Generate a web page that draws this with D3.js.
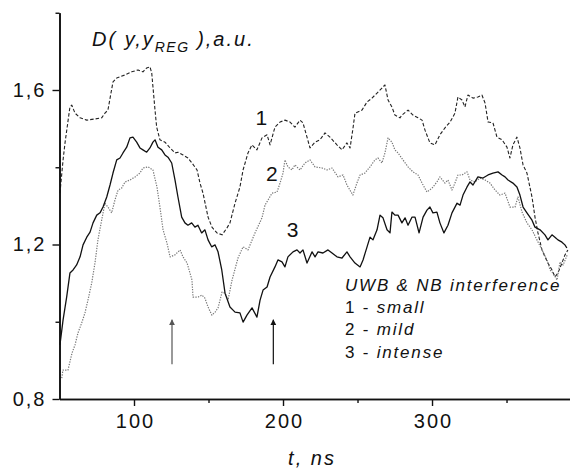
<!DOCTYPE html>
<html><head><meta charset="utf-8">
<script src="https://cdn.jsdelivr.net/npm/d3@7/dist/d3.min.js"></script>
<style>body{margin:0;background:#fff}svg{display:block}</style>
</head><body>
<svg id="c" width="570" height="468"></svg>
<script>
// ---- data (t in ns, D in a.u.) ----
const curveSmall = [[50.3,1.333],[52.4,1.419],[53.7,1.463],[57.0,1.556],[58.2,1.561],[60.4,1.540],[63.8,1.528],[68.3,1.522],[73.8,1.525],[78.3,1.528],[80.5,1.540],[82.5,1.548],[85.9,1.621],[88.4,1.631],[94.0,1.639],[98.5,1.647],[102.7,1.652],[106.0,1.647],[108.5,1.657],[110.7,1.660],[111.9,1.644],[114.1,1.548],[115.2,1.504],[117.4,1.471],[120.8,1.465],[124.2,1.450],[127.5,1.437],[129.5,1.439],[132.9,1.432],[136.2,1.424],[138.9,1.411],[142.3,1.393],[144.3,1.359],[146.3,1.333],[149.7,1.271],[152.3,1.245],[155.7,1.230],[159.1,1.225],[162.4,1.243],[164.4,1.256],[167.8,1.307],[171.1,1.349],[173.2,1.393],[176.5,1.437],[179.2,1.458],[182.5,1.445],[185.9,1.476],[189.3,1.484],[191.3,1.458],[194.6,1.504],[198.0,1.517],[201.3,1.522],[204.7,1.517],[208.0,1.504],[211.4,1.522],[213.4,1.515],[216.1,1.478],[218.1,1.450],[221.5,1.465],[224.8,1.471],[228.2,1.489],[231.5,1.478],[236.2,1.458],[239.6,1.445],[242.9,1.463],[245.0,1.450],[247.0,1.502],[248.3,1.540],[253.0,1.548],[256.4,1.569],[259.7,1.579],[263.1,1.592],[266.4,1.605],[268.4,1.613],[270.5,1.574],[273.1,1.556],[275.1,1.535],[278.5,1.528],[279.8,1.535],[283.9,1.548],[287.2,1.535],[290.6,1.528],[293.3,1.522],[295.3,1.496],[298.6,1.463],[302.0,1.458],[305.3,1.484],[308.7,1.502],[312.1,1.517],[315.4,1.540],[317.4,1.582],[320.1,1.574],[322.1,1.556],[324.1,1.587],[327.5,1.579],[330.8,1.582],[333.5,1.587],[335.6,1.566],[337.6,1.517],[340.9,1.515],[343.6,1.478],[347.0,1.471],[350.3,1.452],[352.3,1.424],[354.3,1.458],[357.0,1.478],[359.0,1.450],[361.1,1.406],[363.7,1.385],[367.1,1.323],[369.1,1.271],[371.1,1.230],[373.8,1.186],[375.8,1.168],[377.8,1.152],[380.5,1.134],[382.5,1.116],[384.5,1.126],[387.2,1.152],[389.2,1.173],[391.2,1.186]];
const curveMild = [[51.5,0.854],[52.3,0.875],[55.7,0.875],[58.4,0.919],[60.4,0.940],[62.4,0.971],[64.9,0.997],[67.1,1.023],[69.1,1.056],[71.6,1.100],[73.8,1.152],[75.8,1.212],[78.3,1.263],[80.5,1.307],[82.5,1.297],[85.0,1.282],[87.2,1.315],[89.3,1.341],[91.7,1.346],[94.0,1.362],[97.3,1.367],[100.7,1.375],[104.0,1.385],[106.0,1.398],[109.4,1.401],[112.7,1.393],[115.4,1.349],[117.4,1.297],[119.5,1.238],[122.1,1.204],[124.2,1.168],[127.5,1.173],[130.9,1.186],[132.9,1.168],[135.6,1.152],[138.9,1.108],[139.6,1.064],[143.0,1.064],[145.6,1.069],[147.6,1.061],[149.7,1.038],[152.3,1.017],[154.4,1.025],[156.4,1.036],[159.1,1.077],[161.1,1.074],[163.1,1.056],[165.8,1.108],[169.8,1.165],[173.2,1.194],[176.5,1.186],[181.2,1.230],[185.9,1.269],[187.9,1.302],[189.9,1.315],[192.6,1.333],[196.0,1.336],[198.0,1.359],[200.0,1.385],[201.3,1.419],[203.3,1.401],[206.0,1.393],[208.0,1.406],[211.4,1.393],[214.7,1.411],[218.1,1.419],[221.5,1.401],[226.2,1.398],[229.5,1.393],[232.9,1.398],[236.9,1.375],[240.3,1.380],[242.9,1.354],[246.9,1.328],[249.6,1.359],[251.7,1.380],[255.0,1.385],[258.4,1.401],[261.7,1.419],[263.7,1.424],[266.4,1.411],[268.4,1.437],[270.5,1.476],[273.1,1.465],[275.1,1.445],[277.2,1.437],[280.5,1.419],[283.9,1.401],[287.2,1.388],[290.6,1.380],[293.3,1.359],[296.6,1.336],[300.0,1.346],[303.3,1.362],[305.3,1.375],[308.7,1.359],[310.7,1.367],[313.4,1.341],[315.4,1.359],[317.4,1.380],[320.1,1.380],[323.5,1.388],[325.5,1.367],[328.8,1.362],[332.2,1.372],[335.6,1.367],[338.9,1.359],[342.3,1.341],[345.6,1.328],[349.0,1.333],[352.3,1.297],[355.7,1.297],[357.7,1.323],[360.4,1.284],[363.7,1.256],[367.1,1.238],[370.4,1.212],[373.8,1.186],[377.2,1.160],[379.2,1.134],[381.2,1.126],[383.9,1.108],[385.9,1.155],[388.0,1.147],[390.7,1.173]];
const curveIntense = [[50.3,0.940],[52.4,1.005],[54.8,1.064],[57.0,1.126],[59.1,1.134],[61.5,1.147],[63.8,1.168],[65.8,1.199],[68.3,1.219],[70.5,1.232],[72.5,1.256],[75.0,1.276],[77.2,1.282],[79.2,1.297],[81.7,1.323],[83.9,1.354],[85.9,1.385],[88.4,1.419],[90.6,1.424],[92.6,1.437],[95.1,1.452],[97.3,1.476],[99.3,1.478],[101.8,1.465],[104.0,1.450],[106.0,1.445],[108.5,1.439],[110.7,1.450],[112.7,1.465],[114.1,1.471],[116.1,1.452],[118.6,1.445],[120.8,1.432],[122.8,1.426],[125.3,1.411],[127.5,1.367],[129.5,1.323],[132.0,1.271],[134.2,1.256],[136.2,1.250],[138.7,1.256],[140.9,1.245],[142.9,1.250],[145.4,1.230],[147.6,1.238],[149.7,1.212],[152.1,1.194],[154.4,1.199],[156.4,1.181],[158.9,1.134],[161.1,1.074],[164.4,1.038],[167.8,1.025],[171.1,1.023],[173.2,0.999],[175.8,1.017],[179.2,1.036],[182.5,1.012],[184.6,1.056],[186.6,1.082],[189.3,1.090],[191.3,1.116],[194.6,1.142],[196.6,1.160],[199.3,1.155],[201.3,1.142],[203.3,1.168],[206.7,1.181],[209.4,1.186],[211.4,1.178],[213.4,1.186],[216.1,1.152],[219.5,1.181],[221.5,1.168],[223.5,1.181],[226.8,1.178],[230.2,1.186],[232.9,1.178],[236.2,1.168],[239.6,1.165],[242.9,1.181],[245.0,1.168],[248.3,1.152],[251.7,1.142],[253.7,1.160],[256.4,1.194],[258.4,1.219],[260.4,1.212],[263.1,1.238],[265.1,1.276],[267.1,1.269],[269.8,1.238],[271.8,1.230],[273.1,1.284],[275.1,1.276],[277.2,1.276],[279.8,1.256],[281.9,1.269],[283.9,1.250],[286.6,1.271],[288.6,1.271],[291.3,1.230],[294.0,1.271],[296.6,1.289],[298.6,1.297],[300.6,1.282],[303.3,1.284],[305.3,1.256],[308.0,1.230],[310.7,1.250],[313.4,1.282],[316.8,1.307],[318.8,1.302],[320.8,1.328],[323.5,1.349],[325.5,1.362],[327.5,1.354],[330.8,1.375],[334.2,1.372],[337.6,1.380],[340.9,1.385],[344.3,1.388],[347.0,1.380],[349.0,1.375],[351.0,1.367],[354.3,1.359],[357.0,1.349],[359.0,1.328],[361.1,1.297],[363.7,1.282],[367.1,1.263],[369.1,1.245],[372.5,1.238],[375.8,1.225],[377.8,1.212],[380.5,1.225],[382.5,1.219],[384.5,1.212],[387.2,1.206],[389.2,1.199],[390.5,1.191]];

const xMajorTicks = [100, 200, 300];
const xMinorTicks = [150, 250, 350];
const yMajorTicks = [0.8, 1.2, 1.6];
const yMajorLabels = ["0,8", "1,2", "1,6"];
const yMinorTicks = [1.0, 1.4, 1.8];
const curveNames = ["1", "2", "3"];
const curveLabelPos = [[185.5, 1.51], [192.5, 1.365], [206.5, 1.22]];
const legendTitle = "UWB & NB interference";
const legendNums = ["1 - ", "2 - ", "3 - "];
const legendWords = ["small", "mild", "intense"];
const arrowTimes = [125.5, 193.5];
const arrowFrom = 0.89, arrowTo = 1.005;

// ---- layout ----
const svg = d3.select("#c");
const FONT = "'Liberation Sans', Arial, sans-serif";
const x = d3.scaleLinear().domain([50, 392.6]).range([59.5, 570]);
const y = d3.scaleLinear().domain([0.8, 1.8]).range([399, 12.75]);

// curves
const line = d3.line().x(d => x(d[0])).y(d => y(d[1]));
const styles = [
  {data: curveSmall, stroke: "#222", width: 1.1, dash: "3.5,2"},
  {data: curveMild, stroke: "#777", width: 1.2, dash: "1.3,1.3"},
  {data: curveIntense, stroke: "#111", width: 1.3, dash: null}
];
styles.forEach(s => {
  svg.append("path").datum(s.data)
    .attr("d", line).attr("fill", "none")
    .attr("stroke", s.stroke).attr("stroke-width", s.width)
    .attr("stroke-dasharray", s.dash)
    .attr("stroke-linejoin", "round");
});

// axes
const axisStyle = g => {
  g.select(".domain").attr("stroke", "#111").attr("stroke-width", 1.6);
  g.selectAll(".tick line").attr("stroke", "#111").attr("stroke-width", 1.4);
  g.selectAll("text").attr("font-family", FONT).attr("font-size", 20)
    .attr("letter-spacing", 2).attr("fill", "#111");
};
svg.append("g").attr("transform", "translate(0,399)")
  .call(d3.axisBottom(x).tickValues(xMinorTicks).tickSize(4).tickSizeOuter(0).tickFormat(""))
  .call(axisStyle);
svg.append("g").attr("transform", "translate(0,399)")
  .call(d3.axisBottom(x).tickValues(xMajorTicks).tickSize(7).tickSizeOuter(0).tickPadding(8).tickFormat(d3.format("d")))
  .call(axisStyle)
  .call(g => g.selectAll("text").attr("dx", 1));
svg.append("g").attr("transform", "translate(59.5,0)")
  .call(d3.axisLeft(y).tickValues(yMinorTicks).tickSize(4).tickSizeOuter(0).tickFormat(""))
  .call(axisStyle);
svg.append("g").attr("transform", "translate(59.5,0)")
  .call(d3.axisLeft(y).tickValues(yMajorTicks).tickSize(7).tickSizeOuter(0).tickPadding(6)
    .tickFormat((d, i) => yMajorLabels[i]))
  .call(axisStyle);

// axis title
svg.append("text").attr("x", 312).attr("y", 465).attr("text-anchor", "middle")
  .attr("font-family", FONT).attr("font-size", 20).attr("font-style", "italic")
  .attr("letter-spacing", 2).attr("fill", "#111").text("t, ns");

// y title
const ttl = svg.append("text").attr("x", 92).attr("y", 46)
  .attr("font-family", FONT).attr("font-size", 20).attr("font-style", "italic")
  .attr("letter-spacing", 2).attr("fill", "#111");
ttl.append("tspan").text("D( y,y");
ttl.append("tspan").attr("dy", 6).attr("font-size", 14).attr("letter-spacing", 1.5).text("REG");
ttl.append("tspan").attr("dy", -6).text(" ),a.u.");

// curve numbers
svg.selectAll(".cl").data(curveNames).enter().append("text")
  .attr("x", (d, i) => x(curveLabelPos[i][0])).attr("y", (d, i) => y(curveLabelPos[i][1]))
  .attr("text-anchor", "middle").attr("font-family", FONT).attr("font-size", 21)
  .attr("fill", "#111").text(d => d);

// legend
svg.append("text").attr("x", 345).attr("y", 291)
  .attr("font-family", FONT).attr("font-size", 17).attr("font-style", "italic")
  .attr("letter-spacing", 1.8).attr("fill", "#111").text(legendTitle);
legendNums.forEach((n, i) => {
  const t = svg.append("text").attr("x", 345).attr("y", 313 + i * 22.4)
    .attr("font-family", FONT).attr("font-size", 17).attr("letter-spacing", 1.8).attr("fill", "#111");
  t.append("tspan").text(n);
  t.append("tspan").attr("font-style", "italic").text(legendWords[i]);
});

// arrows
const defs = svg.append("defs");
arrowTimes.forEach((t, i) => {
  const col = i === 0 ? "#555" : "#111";
  defs.append("marker").attr("id", "ah" + i).attr("viewBox", "0 0 10 10")
    .attr("refX", 9).attr("refY", 5).attr("markerWidth", 6).attr("markerHeight", 7)
    .attr("markerUnits", "userSpaceOnUse").attr("orient", "auto")
    .append("path").attr("d", "M0,0 L10,5 L0,10 Z").attr("fill", col);
  svg.append("line").attr("x1", x(t)).attr("x2", x(t))
    .attr("y1", y(arrowFrom)).attr("y2", y(arrowTo))
    .attr("stroke", col).attr("stroke-width", 1.2).attr("marker-end", "url(#ah" + i + ")");
});
</script>
</body></html>
